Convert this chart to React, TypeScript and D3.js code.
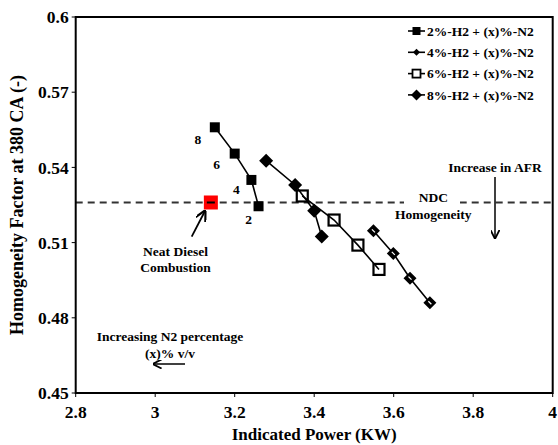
import React from "react";
import * as d3 from "d3";

const xTicks = [2.8, 3, 3.2, 3.4, 3.6, 3.8, 4];
const yTicks = [0.45, 0.48, 0.51, 0.54, 0.57, 0.6];
const xTickLabels = ["2.8", "3", "3.2", "3.4", "3.6", "3.8", "4"];
const yTickLabels = ["0.45", "0.48", "0.51", "0.54", "0.57", "0.6"];

const h2_2 = [
  { x: 3.15, y: 0.556 },
  { x: 3.2, y: 0.5455 },
  { x: 3.242, y: 0.535 },
  { x: 3.26, y: 0.5245 },
];
const h2_2Labels = ["8", "6", "4", "2"];
const h2_4 = [
  { x: 3.549, y: 0.5147 },
  { x: 3.599, y: 0.5057 },
  { x: 3.641, y: 0.4958 },
  { x: 3.691, y: 0.486 },
];
const h2_6 = [
  { x: 3.37, y: 0.5286 },
  { x: 3.45, y: 0.519 },
  { x: 3.51, y: 0.509 },
  { x: 3.563, y: 0.4993 },
];
const h2_8 = [
  { x: 3.279, y: 0.5427 },
  { x: 3.352, y: 0.533 },
  { x: 3.4, y: 0.5227 },
  { x: 3.419, y: 0.5124 },
];
const ndc = { x: 3.14, y: 0.526 };
const legendLabels = [
  "2%-H2 + (x)%-N2",
  "4%-H2 + (x)%-N2",
  "6%-H2 + (x)%-N2",
  "8%-H2 + (x)%-N2",
];

const W = 558;
const H = 445;
const L = 75.7;
const R = 552.7;
const T = 17;
const B = 393;
const FONT = "'Liberation Serif', 'Times New Roman', serif";
const AF = 13.5;

type P = { x: number; y: number };

function Marker({ kind, cx, cy }: { kind: number; cx: number; cy: number }) {
  if (kind === 0) {
    return <rect x={cx - 5} y={cy - 5} width={10} height={10} fill="#000" />;
  }
  if (kind === 1) {
    return (
      <g>
        <path d={`M${cx},${cy - 6.5}L${cx + 6.5},${cy}L${cx},${cy + 6.5}L${cx - 6.5},${cy}Z`} fill="#000" />
        <path d={`M${cx - 1.5},${cy - 1.5}L${cx + 1.5},${cy + 1.5}`} stroke="#fff" strokeWidth={1.2} />
      </g>
    );
  }
  if (kind === 2) {
    return (
      <rect x={cx - 5.5} y={cy - 5.5} width={11} height={11} fill="none" stroke="#000" strokeWidth={2.2} />
    );
  }
  return <path d={`M${cx},${cy - 7}L${cx + 7},${cy}L${cx},${cy + 7}L${cx - 7},${cy}Z`} fill="#000" />;
}

function LegendMarker({ kind, cx, cy }: { kind: number; cx: number; cy: number }) {
  if (kind === 0) return <rect x={cx - 4} y={cy - 4} width={8} height={8} fill="#000" />;
  if (kind === 1)
    return <path d={`M${cx},${cy - 3.5}L${cx + 3.5},${cy}L${cx},${cy + 3.5}L${cx - 3.5},${cy}Z`} fill="#000" />;
  if (kind === 2)
    return <rect x={cx - 4} y={cy - 4} width={8} height={8} fill="#fff" stroke="#000" strokeWidth={1.8} />;
  return <path d={`M${cx},${cy - 5.5}L${cx + 5.5},${cy}L${cx},${cy + 5.5}L${cx - 5.5},${cy}Z`} fill="#000" />;
}

export default function App() {
  const x = d3.scaleLinear().domain([2.8, 4]).range([L, R]);
  const y = d3.scaleLinear().domain([0.45, 0.6]).range([B, T]);
  const line = d3
    .line<P>()
    .x((d) => x(d.x))
    .y((d) => y(d.y));

  const series = [h2_2, h2_4, h2_6, h2_8];
  const labelOffsets = [
    [-17, 12],
    [-18, 11],
    [-15, 9],
    [-10, 13],
  ];

  return (
    <svg
      width={W}
      height={H}
      style={{ position: "absolute", left: 0, top: 0, background: "#fff" }}
      fontFamily={FONT}
      fontWeight="bold"
    >
      <rect x={0} y={0} width={W} height={H} fill="#fff" />
      <line
        x1={L}
        x2={R}
        y1={y(ndc.y)}
        y2={y(ndc.y)}
        stroke="#333"
        strokeWidth={2}
        strokeDasharray="7,5"
      />
      <rect x={404} y={190} width={56} height={15} fill="#fff" />
      {yTicks.map((t, i) => (
        <g key={"y" + i}>
          <line x1={L - 4} x2={L} y1={y(t)} y2={y(t)} stroke="#000" strokeWidth={1} />
          <text x={L - 7} y={y(t)} dy="0.35em" textAnchor="end" fontSize={17.5}>
            {yTickLabels[i]}
          </text>
        </g>
      ))}
      {xTicks.map((t, i) => (
        <g key={"x" + i}>
          <line x1={x(t)} x2={x(t)} y1={B} y2={B + 4} stroke="#000" strokeWidth={1} />
          <text x={x(t)} y={B + 19} dy="0.35em" textAnchor="middle" fontSize={17.5}>
            {xTickLabels[i]}
          </text>
        </g>
      ))}
      {series.map((s, k) => (
        <g key={"s" + k}>
          <path d={line(s) || ""} fill="none" stroke="#000" strokeWidth={1.6} />
          {s.map((d, j) => (
            <Marker key={j} kind={k} cx={x(d.x)} cy={y(d.y)} />
          ))}
        </g>
      ))}
      {h2_2.map((d, j) => (
        <text
          key={"l" + j}
          x={x(d.x) + labelOffsets[j][0]}
          y={y(d.y) + labelOffsets[j][1]}
          dy="0.35em"
          textAnchor="middle"
          fontSize={AF}
        >
          {h2_2Labels[j]}
        </text>
      ))}
      <rect x={x(ndc.x) - 7} y={y(ndc.y) - 7} width={14} height={14} fill="#ff0000" />
      <line x1={x(ndc.x) - 4} x2={x(ndc.x) + 4} y1={y(ndc.y)} y2={y(ndc.y)} stroke="#000" strokeWidth={2} />
      <defs>
        <marker id="ah" viewBox="0 0 10 10" refX="9" refY="5" markerWidth="6" markerHeight="6" orient="auto">
          <path d="M0,0L10,5L0,10" fill="none" stroke="#000" strokeWidth={2} />
        </marker>
      </defs>
      <line x1={191.7} y1={236.7} x2={205} y2={211} stroke="#000" strokeWidth={1.8} markerEnd="url(#ah)" />
      <text x={175.5} y={251.7} dy="0.35em" textAnchor="middle" fontSize={AF}>
        Neat Diesel
      </text>
      <text x={175.5} y={267.3} dy="0.35em" textAnchor="middle" fontSize={AF}>
        Combustion
      </text>
      <text x={433.3} y={197.3} dy="0.35em" textAnchor="middle" fontSize={AF}>
        NDC
      </text>
      <text x={433.3} y={214} dy="0.35em" textAnchor="middle" fontSize={AF}>
        Homogeneity
      </text>
      <text x={495} y={167.3} dy="0.35em" textAnchor="middle" fontSize={AF}>
        Increase in AFR
      </text>
      <line x1={495} y1={177} x2={495} y2={238} stroke="#000" strokeWidth={1.5} markerEnd="url(#ah)" />
      <text x={170} y={336} dy="0.35em" textAnchor="middle" fontSize={AF}>
        Increasing  N2 percentage
      </text>
      <text x={170} y={353.3} dy="0.35em" textAnchor="middle" fontSize={AF}>
        (x)% v/v
      </text>
      <line x1={185} y1={364} x2={153.5} y2={364} stroke="#000" strokeWidth={1.5} markerEnd="url(#ah)" />
      {legendLabels.map((lab, i) => {
        const cy = 31 + i * 21.3;
        return (
          <g key={"lg" + i}>
            <line x1={408} x2={425} y1={cy} y2={cy} stroke="#000" strokeWidth={1.6} />
            <LegendMarker kind={i} cx={416.5} cy={cy} />
            <text x={427} y={cy} dy="0.35em" fontSize={AF}>
              {lab}
            </text>
          </g>
        );
      })}
      <rect x={L} y={T} width={R - L} height={B - T} fill="none" stroke="#000" strokeWidth={2} />
      <text x={(L + R) / 2} y={434} dy="0.35em" textAnchor="middle" fontSize={17}>
        Indicated Power (KW)
      </text>
      <text
        transform={`translate(17,${(T + B) / 2}) rotate(-90)`}
        dy="0.35em"
        textAnchor="middle"
        fontSize={18}
      >
        Homogeneity  Factor at 380 CA (-)
      </text>
    </svg>
  );
}
